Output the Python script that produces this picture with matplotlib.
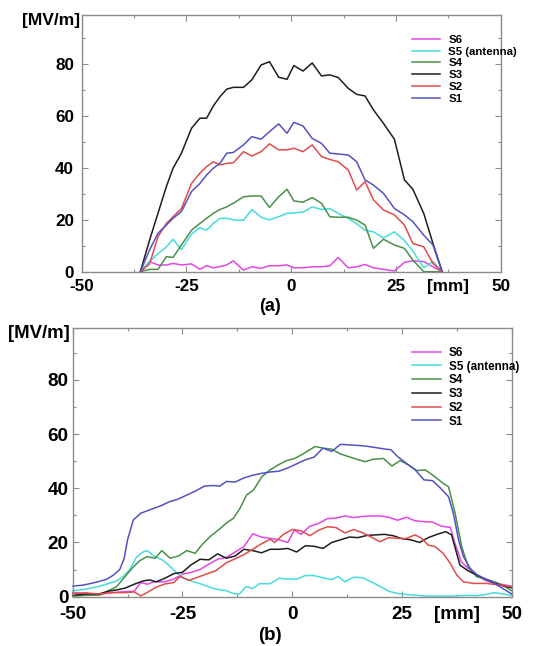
import numpy as np
import matplotlib
matplotlib.use("Agg")
import matplotlib.pyplot as plt
from matplotlib.ticker import MultipleLocator

plt.rcParams['font.family'] = ['Liberation Sans', 'DejaVu Sans']
plt.rcParams['font.weight'] = 'bold'
plt.rcParams['axes.unicode_minus'] = False

# ---- (a) field along the line, all sensors sampled on the same positions [mm]
x_a = [-36, -33.8, -31.8, -29.8, -28.2, -26.2, -23.8, -21.8, -20.2, -18.6,
       -17, -15.4, -13.8, -11.4, -9.4, -7.2, -5.2, -3, -1, 0.6,
       2.8, 5, 7.2, 9.2, 11.2, 13.6, 15.6, 17.6, 19.6, 22,
       24.6, 27, 29, 31.6, 33.8, 36]
a_s6 = [0, 3.9, 2.6, 2.6, 3.2, 2.6, 3, 0.9, 2.3, 1.5,
        2, 2.6, 4.2, 0.6, 1.9, 1.3, 2.3, 2.3, 2.6, 1.5,
        1.5, 1.9, 1.9, 2.3, 5.5, 1.5, 1.9, 2.8, 1.5, 0.9,
        0.3, 3.6, 4.2, 3.9, 1.9, 0]
a_s5 = [0, 3.9, 7, 9.5, 12.5, 8.5, 14.5, 17, 16, 18.6,
        20.6, 20.6, 20, 19.8, 24, 21, 20, 21.2, 22.5, 22.7,
        23, 25, 24, 24.3, 22.5, 20.5, 18.5, 16, 15.4, 13,
        15.4, 12, 8, 1.5, 4, 0]
a_s4 = [0, 0.9, 0.9, 5.8, 5.5, 10.3, 16, 18.6, 20.6, 22.5,
        24, 25, 26.4, 28.9, 29.2, 29.2, 24.8, 28.9, 31.8, 27.3,
        26.8, 28.6, 26.4, 21.2, 21, 21, 19.9, 18, 9, 12.5,
        10.3, 9, 4.5, 0, 0, 0]
a_s3 = [0, 12.2, 22.5, 32.8, 39.9, 45.7, 55.3, 59.2, 59.2, 63.9,
        67.5, 70.4, 71.1, 71.1, 74.0, 79.7, 81.0, 75.0, 74.2, 79.5,
        77.4, 80.5, 75.5, 75.9, 74.9, 70.7, 68.4, 67.8, 62.4, 57.2,
        51.1, 35.4, 31.8, 22.5, 10.9, 0]
a_s2 = [0, 3, 13.5, 18.6, 21.2, 24.4, 34, 38, 40.5, 42.4,
        41.2, 41.8, 42, 46.3, 44.6, 46.3, 49.3, 47, 47, 47.6,
        46.3, 48.9, 44.4, 43.3, 42.4, 39.2, 31.5, 34.7, 27.7, 23.8,
        21.9, 18, 10.9, 9.6, 3.2, 0]
a_s1 = [0, 8.4, 14.8, 18, 20.6, 23.2, 30.9, 34, 37.3, 39.9,
        41.8, 45.7, 46, 48.9, 52.1, 51.1, 54, 57, 53.4, 57.6,
        56.2, 51.4, 49.5, 45.7, 45.4, 45, 42.4, 35.4, 33.4, 30.2,
        24.4, 21.9, 19.3, 14.1, 10.3, 0]

# ---- (b) each sensor has its own sample positions
b_x_s6 = [-50, -47, -44, -41, -38, -36, -34.5, -33, -31.5, -29,
          -27, -25, -23, -21, -19, -17, -15, -13, -11, -9,
          -7, -5, -3, -1, 0.5, 2, 4, 6, 8, 10,
          12, 14, 16, 18, 20, 22, 24, 26, 28, 30,
          32, 34, 36, 37, 38.5, 40, 42, 44, 46, 48, 50]
b_y_s6 = [1.5, 1.2, 0.9, 1.5, 1.9, 2, 5.2, 4.6, 5.5, 5.5,
          6.5, 8.3, 9, 10, 12, 13.8, 14.5, 16.5, 18.5, 23.2,
          22, 21.5, 21, 20, 24.6, 23, 26, 27, 28.8, 29,
          29.8, 29.2, 29.6, 29.8, 29.8, 29.3, 28.2, 29.3, 28, 27.7,
          27.5, 26, 25.6, 20, 13, 10.5, 8, 6, 5, 4.5, 3.8]
b_x_s5 = [-50, -47, -44, -42, -40, -38.5, -37, -35.5, -34, -33,
          -31.5, -29.5, -28, -26.5, -25, -23, -21, -19, -17, -15,
          -13.5, -12, -10.5, -9, -7.5, -5, -3, -1, 1, 3,
          5, 7, 9, 10.5, 12, 14, 16, 18, 20, 22,
          24, 26, 28, 30, 32, 34, 36, 38, 40, 42,
          44, 46, 48, 50]
b_y_s5 = [2.2, 2.8, 3.8, 4.8, 5.8, 7.4, 10, 14.5, 16.5, 17,
          15, 13.5, 11.5, 9, 7, 5.8, 4.8, 3.6, 2.7, 2.2,
          1.2, 1, 3.8, 3, 4.8, 4.8, 6.8, 6.5, 6.5, 7.8,
          7.8, 7, 6.3, 7.5, 5.5, 7.2, 7, 5.5, 3.8, 2,
          1.2, 0.8, 0.6, 0.3, 0.2, 0.2, 0.2, 0.4, 0.5, 0.4,
          0.8, 1.5, 1, 0.5]
b_x_s4 = [-50, -46.8, -43.8, -41.5, -40, -38.1, -36.2, -34.7, -33.1, -31.2,
          -29.7, -27.8, -25.9, -24, -22.1, -20.6, -18.7, -16.8, -14.9, -13.4,
          -11.9, -10.4, -8.8, -6.9, -5, -3.2, -1.3, 0.6, 2.5, 5.2,
          7.1, 9, 10.9, 12.8, 14.7, 16.6, 18.5, 20.8, 22.7, 24.6,
          26.5, 28.4, 30.3, 32.2, 34.4, 35.6, 37.1, 38.6, 40.1, 42,
          44.3, 46.6, 48.5, 50]
b_y_s4 = [0.2, 0.5, 0.6, 2.5, 3.7, 7.4, 11, 13.3, 14.8, 14.2,
          17, 14.2, 15, 17, 16, 19.1, 22.2, 24.6, 27.3, 28.9,
          32.6, 37.5, 39.4, 44.3, 46.8, 48.6, 50.2, 51, 52.7, 55.4,
          54.8, 54.4, 52.7, 51.7, 50.7, 49.8, 50.7, 51, 48.2, 50.2,
          48.6, 46.5, 46.8, 44.6, 41.8, 40.6, 30.8, 18.5, 11.1, 7.4,
          6.4, 5.2, 3.7, 2.2]
b_x_s3 = [-50, -47, -44, -42, -40, -38, -36, -34, -32.5, -31,
          -29, -27, -25, -23, -21, -19, -17, -15, -13, -11,
          -9, -7, -5, -3, -1, 1, 3, 5, 7, 9,
          11, 13, 15, 17, 19, 21, 23, 25, 27, 29,
          31, 33, 35, 36.3, 38.2, 40, 42, 44, 46, 48, 50]
b_y_s3 = [0.5, 1, 1, 2, 2.5, 3.2, 4.6, 5.8, 6.2, 5.5,
          6.8, 8.5, 9, 11.8, 13.8, 13.6, 15.8, 14.2, 15, 17.5,
          17, 16.2, 17.5, 17.5, 17.8, 16.5, 18.8, 18.6, 17.8, 20,
          21, 22, 21.8, 22.6, 22.8, 23, 22.5, 21.4, 21, 20,
          21.8, 23, 24, 22.8, 11.7, 9.6, 8, 6.5, 5, 4, 3.3]
b_x_s2 = [-50, -47, -44, -41, -38, -36, -34.5, -33, -31, -29,
          -27, -25.5, -23.5, -21.5, -19.5, -17.5, -15, -13, -11, -9,
          -7, -5, -4, -2, 0, 2, 4, 6, 8, 10,
          12, 14, 16, 18, 20, 22, 24, 26, 28, 29.5,
          31, 32.5, 34.4, 36, 37.5, 39, 41.3, 44.3, 47.3, 50]
b_y_s2 = [1.2, 1.4, 1, 1.5, 1.5, 1.8, 0.3, 1.6, 3.5, 4.7,
          5.2, 7.5, 6, 7.2, 8.4, 9.5, 12.5, 14, 15.5, 17.5,
          19.5, 21.2, 20, 23, 24.8, 24.3, 22.5, 24.5, 25.8, 25.5,
          23.5, 24.8, 23.6, 22, 20.3, 21.8, 21.5, 21.5, 22.8, 21.5,
          19, 18.5, 16, 12.3, 8, 5.5, 4.9, 4.9, 4.3, 3.7]
b_x_s1 = [-50, -47.5, -44.5, -42.3, -40.7, -39.3, -38.3, -37.5, -36.2, -34.5,
          -32.5, -30, -28, -26, -24, -22, -20, -18, -16.5, -15,
          -13, -11, -9, -7, -5, -3, -1, 1, 3, 5,
          7, 9, 11, 13, 15, 17, 19, 21, 22.5, 24,
          26, 28, 30, 32, 33.8, 35.6, 36.7, 37.9, 39, 40.5,
          42, 44, 46, 48, 50]
b_y_s1 = [3.9, 4.3, 5.4, 6.4, 8, 10, 14, 21, 28.3, 30.8,
          32, 33.5, 35, 36, 37.5, 39, 40.8, 41, 40.8, 42.5,
          42.3, 43.8, 44.8, 45.5, 46, 46.3, 47.5, 49, 50.5, 51.5,
          54.8, 53.6, 56.2, 56, 55.8, 55.5, 55, 54.5, 54.2, 51.7,
          49.2, 46.8, 43.1, 42.8, 40, 36.9, 30.8, 20.9, 14.8, 10.5,
          8.2, 6.5, 5, 3, 1]

labels = ['S6', 'S5 (antenna)', 'S4', 'S3', 'S2', 'S1']
colors = ['#e446e4', '#46dcdc', '#4a8f4a', '#1e1e1e', '#e24c4c', '#5252c4']
frame_grey = '#8c8c8c'


def draw_panel(ax, xs, ys, fs, xpad, ypad, legend_at, legend_fs):
    for x, y, lab, c in zip(xs, ys, labels, colors):
        ax.plot(x, y, color=c, lw=1.1, label=lab, clip_on=False)
    ax.set_xlim(-50, 50)
    ax.set_ylim(0, 99)
    ax.xaxis.set_major_locator(MultipleLocator(25))
    ax.xaxis.set_minor_locator(MultipleLocator(12.5))
    ax.yaxis.set_major_locator(MultipleLocator(20))
    ax.yaxis.set_minor_locator(MultipleLocator(10))
    ax.tick_params(which='both', direction='in', top=True, right=True,
                   color=frame_grey, labelsize=fs)
    ax.tick_params(which='major', length=4, width=0.8)
    ax.tick_params(which='minor', length=2.5, width=0.8)
    ax.tick_params(axis='x', pad=xpad)
    ax.tick_params(axis='y', pad=ypad)
    for sp in ax.spines.values():
        sp.set_color(frame_grey)
        sp.set_linewidth(1)
    ax.annotate('[mm]', xy=(37.5, 0), xycoords=('data', 'axes fraction'),
                xytext=(0, -xpad), textcoords='offset points',
                ha='center', va='top', fontsize=fs)
    ax.legend(loc='upper left', bbox_to_anchor=legend_at, frameon=False,
              fontsize=legend_fs, handlelength=2.5, handletextpad=0.7,
              labelspacing=0.15, borderpad=0, borderaxespad=0)


fig = plt.figure(figsize=(5.43, 6.46), dpi=100)
ax_a = fig.add_axes([0.1504, 0.5794, 0.772, 0.3974])
ax_b = fig.add_axes([0.1339, 0.0763, 0.8085, 0.4155])

draw_panel(ax_a, [x_a] * 6, [a_s6, a_s5, a_s4, a_s3, a_s2, a_s1],
           12.3, 5.5, 5.5, (0.788, 0.922), 8.2)
draw_panel(ax_b, [b_x_s6, b_x_s5, b_x_s4, b_x_s3, b_x_s2, b_x_s1],
           [b_y_s6, b_y_s5, b_y_s4, b_y_s3, b_y_s2, b_y_s1],
           13.6, 7.0, 3.0, (0.772, 0.931), 8.4)

fig.text(51 / 543, 1 - 20 / 646, '[MV/m]', ha='center', va='center', fontsize=12.5)
fig.text(39 / 543, 1 - 333 / 646, '[MV/m]', ha='center', va='center', fontsize=13.4)
fig.text(270 / 543, 1 - 307 / 646, '(a)', ha='center', va='center', fontsize=13)
fig.text(270 / 543, 1 - 635 / 646, '(b)', ha='center', va='center', fontsize=13.5)

fig.savefig('out.png', dpi=100)
